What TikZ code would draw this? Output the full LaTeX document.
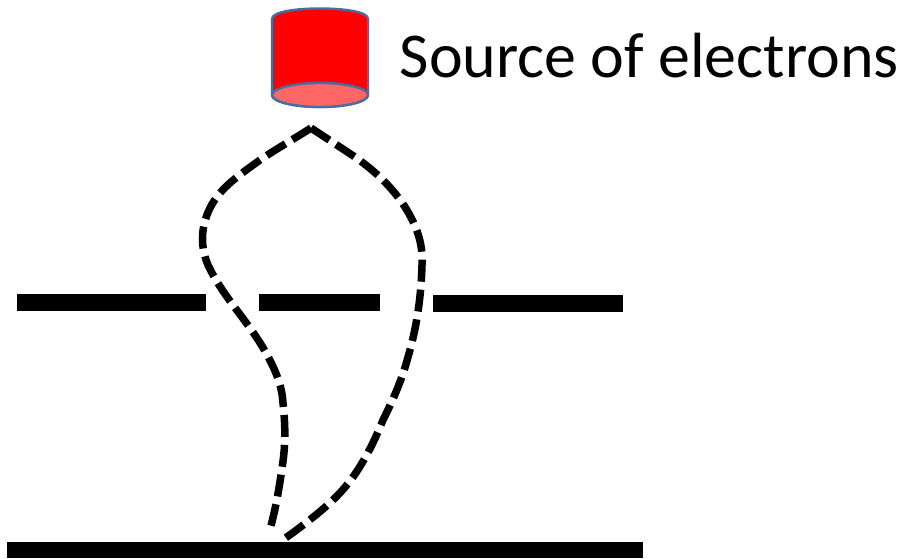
\documentclass[tikz,border=0pt]{standalone}
\usepackage{fontspec}
\setmainfont{Carlito}
\definecolor{rimblue}{RGB}{70,110,160}
\definecolor{srcred}{RGB}{255,0,0}
\definecolor{srcpink}{RGB}{255,102,102}
\tikzset{
  slit/.style={fill=black,draw=none},
  path line/.style={line width=7.5pt,dash pattern=on 22pt off 8pt,black},
  rim/.style={rimblue,line width=2.4pt},
}
\begin{document}
\begin{tikzpicture}[x=1pt,y=-1pt]
\useasboundingbox (0,0) rectangle (910,558);
% source
\draw[rim,fill=srcred,line join=round] (272,19) -- (272,95) arc[start angle=180,end angle=360,x radius=48,y radius=-12] -- (368,19) .. controls (368,12) and (346,8.5) .. (320,8.5) .. controls (294,8.5) and (272,12) .. (272,19) -- cycle;
\draw[rim,fill=srcpink] (320,95) ellipse[x radius=48,y radius=12];
\node[anchor=west,inner sep=0pt,font=\fontsize{63.9}{70}\selectfont] (label) at (399.5,56) {Source of electrons};
% barriers
\node[slit,minimum width=189pt,minimum height=17pt,inner sep=0pt] (w1) at (111.5,302.5) {};
\node[slit,minimum width=121pt,minimum height=17pt,inner sep=0pt] (w2) at (319.5,302.5) {};
\node[slit,minimum width=190pt,minimum height=17pt,inner sep=0pt] (w3) at (528,303.5) {};
\node[slit,minimum width=636pt,minimum height=16pt,inner sep=0pt] (screen) at (325,550) {};
\coordinate (top) at (311,128);
\coordinate (bot1) at (269,533);
\coordinate (bot2) at (281,541);
\draw[path line] (top) .. controls (294,139) and (276,149) .. (260,160)
  .. controls (238,176) and (220,188) .. (210,208)
  .. controls (202,224) and (199,244) .. (208,265)
  .. controls (222,295) and (245,318) .. (262,346)
  .. controls (275,368) and (282,385) .. (283,403)
  .. controls (286,430) and (285,450) .. (282,468)
  .. controls (279,490) and (275,512) .. (bot1);
\draw[path line] (top) .. controls (326,138) and (340,147) .. (355,157)
  .. controls (378,173) and (394,190) .. (405,207)
  .. controls (418,228) and (423,245) .. (422,265)
  .. controls (421,300) and (416,330) .. (408,357)
  .. controls (402,380) and (392,402) .. (383,420)
  .. controls (375,440) and (365,460) .. (353,477)
  .. controls (340,495) and (325,508) .. (307,522)
  .. controls (298,529) and (290,535) .. (bot2);
\end{tikzpicture}
\end{document}
